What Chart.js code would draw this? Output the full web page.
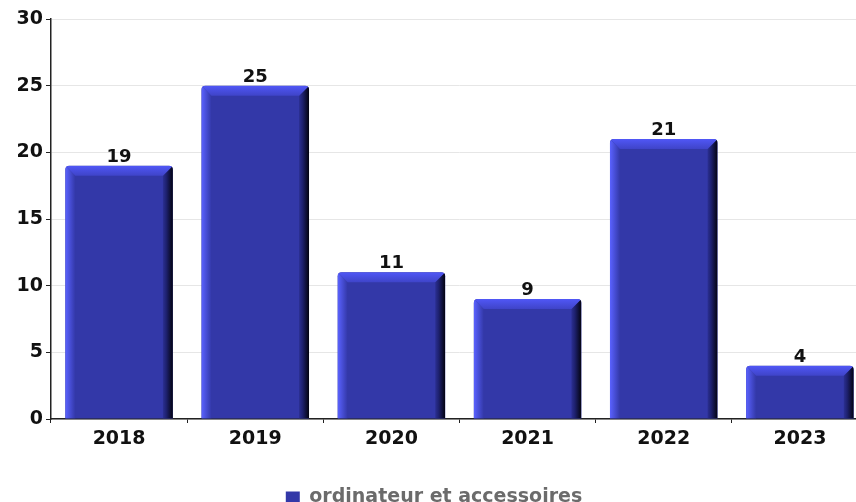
<!DOCTYPE html>
<html>
<head>
<meta charset="utf-8">
<script src="https://cdn.jsdelivr.net/npm/chart.js@4/dist/chart.umd.min.js"></script>
<style>
  html, body { margin: 0; padding: 0; background: #fff; overflow: hidden; }
  #wrap { width: 856px; height: 502px; overflow: hidden; position: relative; }
  #box { position: absolute; left: 0; top: 0; width: 870px; height: 517px; }
</style>
</head>
<body>
<div id="wrap"><div id="box"><canvas id="salesChart"></canvas></div></div>
<script>
var years = ['2018', '2019', '2020', '2021', '2022', '2023'];
var seriesName = 'ordinateur et accessoires';
var counts = [19, 25, 11, 9, 21, 4];
var yTicks = [0, 5, 10, 15, 20, 25, 30];

var FONT = "'DejaVu Sans', sans-serif";

// shade the bars so they look like the bevelled java bars
var bevelPlugin = {
    id: 'bevel',
    afterDatasetsDraw: function(chart) {
        var ctx = chart.ctx;
        var meta = chart.getDatasetMeta(0);
        meta.data.forEach(function(bar, i) {
            var p = bar.getProps(['x', 'y', 'base', 'width'], true);
            var x0 = p.x - p.width / 2, x1 = p.x + p.width / 2;
            var top = p.y, bottom = p.base;
            var d = 10;
            ctx.save();
            ctx.beginPath();
            ctx.roundRect(x0, top, x1 - x0, bottom - top, [4, 4, 0, 0]);
            ctx.clip();

            var gl = ctx.createLinearGradient(x0, 0, x0 + d, 0);
            gl.addColorStop(0, '#5a62ff');
            gl.addColorStop(1, '#3338a8');
            ctx.fillStyle = gl;
            ctx.beginPath();
            ctx.moveTo(x0, top);
            ctx.lineTo(x0 + d, top + d);
            ctx.lineTo(x0 + d, bottom);
            ctx.lineTo(x0, bottom);
            ctx.closePath();
            ctx.fill();

            var gr = ctx.createLinearGradient(x1 - d - 2, 0, x1, 0);
            gr.addColorStop(0, '#3338a8');
            gr.addColorStop(0.45, '#1e2170');
            gr.addColorStop(1, '#03030f');
            ctx.fillStyle = gr;
            ctx.beginPath();
            ctx.moveTo(x1, top);
            ctx.lineTo(x1, bottom);
            ctx.lineTo(x1 - d, bottom);
            ctx.lineTo(x1 - d, top + d);
            ctx.closePath();
            ctx.fill();

            var gt = ctx.createLinearGradient(0, top, 0, top + d);
            gt.addColorStop(0, '#5057f6');
            gt.addColorStop(1, '#3f44c8');
            ctx.fillStyle = gt;
            ctx.beginPath();
            ctx.moveTo(x0, top);
            ctx.lineTo(x1, top);
            ctx.lineTo(x1 - d, top + d);
            ctx.lineTo(x0 + d, top + d);
            ctx.closePath();
            ctx.fill();
            ctx.restore();

            // value above the bar
            ctx.save();
            ctx.font = 'bold 18px ' + FONT;
            ctx.fillStyle = '#111';
            ctx.textAlign = 'center';
            ctx.textBaseline = 'alphabetic';
            ctx.fillText(String(chart.data.datasets[0].data[i]), p.x, top - 4);
            ctx.restore();
        });
    }
};

var ctx = document.getElementById('salesChart');
new Chart(ctx, {
    type: 'bar',
    data: {
        labels: years,
        datasets: [{
            label: seriesName,
            data: counts,
            backgroundColor: '#3338a8',
            borderWidth: 0,
            borderRadius: { topLeft: 4, topRight: 4 },
            borderSkipped: 'bottom',
            categoryPercentage: 1,
            barPercentage: 0.79
        }]
    },
    options: {
        responsive: true,
        maintainAspectRatio: false,
        animation: false,
        layout: { padding: { top: 19, right: 2, left: 0, bottom: 0 } },
        plugins: {
            tooltip: { enabled: false },
            legend: {
                position: 'bottom',
                labels: {
                    boxWidth: 14,
                    boxHeight: 12,
                    padding: 10,
                    color: '#6b6b6b',
                    font: { family: FONT, size: 19, weight: 'bold' }
                }
            }
        },
        scales: {
            y: {
                min: 0,
                max: 30,
                afterFit: function(s) { s.width = 51; },
                afterBuildTicks: function(s) {
                    s.ticks = yTicks.map(function(v) { return { value: v }; });
                },
                ticks: {
                    color: '#111',
                    padding: 3,
                    font: { family: FONT, size: 19, weight: 'bold' }
                },
                grid: {
                    color: '#e6e6e6',
                    tickColor: '#222',
                    tickLength: 5
                },
                border: { color: '#222', width: 1.5 }
            },
            x: {
                afterFit: function(s) { s.height = 59; },
                ticks: {
                    color: '#111',
                    padding: 5,
                    font: { family: FONT, size: 19, weight: 'bold' }
                },
                grid: {
                    drawOnChartArea: false,
                    tickColor: '#222',
                    tickLength: 4
                },
                border: { color: '#222', width: 1.5 }
            }
        }
    },
    plugins: [bevelPlugin]
});
</script>
</body>
</html>
